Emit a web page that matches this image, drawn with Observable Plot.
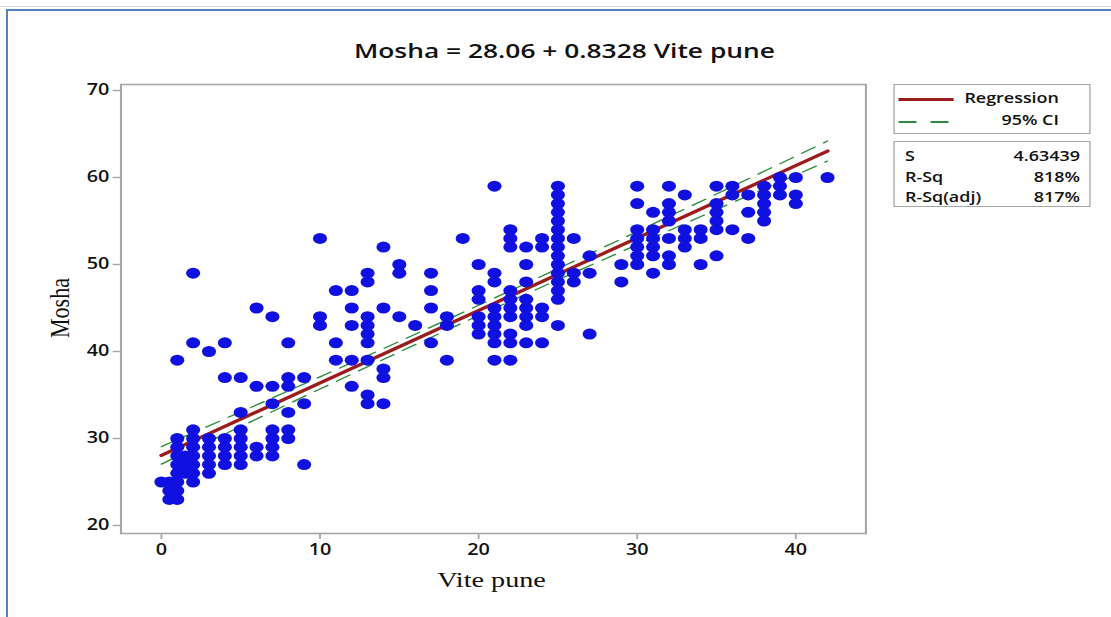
<!DOCTYPE html>
<html><head><meta charset="utf-8">
<script src="https://cdn.jsdelivr.net/npm/d3@7"></script>
<script src="https://cdn.jsdelivr.net/npm/@observablehq/plot@0.6"></script>
<style>
html,body{margin:0;padding:0;background:#fff;width:1111px;height:617px;overflow:hidden;}
#topline{position:absolute;left:0;top:6px;width:1111px;height:1px;background:#d4d4d4;}
#border{position:absolute;left:6px;top:9px;width:1200px;height:700px;border-left:2px solid #4f81bd;border-top:2px solid #4f81bd;}
#wrap{position:absolute;left:0;top:0;width:868px;height:617px;transform:scaleX(1.28);transform-origin:0 0;font-family:"Open Sans",sans-serif;color:#111;}
#wrap svg{position:absolute;left:0;top:0;}
.t{position:absolute;white-space:nowrap;line-height:20px;height:20px;}
.title{left:0;width:882px;top:40px;text-align:center;font-size:20.6px;font-weight:600;}
.ylab{left:47px;top:308px;font-family:"Liberation Serif",serif;font-size:22px;transform:translate(-50%,-50%) rotate(-90deg);}
.xlab{left:384px;top:580px;font-family:"Liberation Serif",serif;font-size:22px;transform:translate(-50%,-50%);}
.box{position:absolute;border:1.6px solid #a6a6a6;box-sizing:border-box;}
.leg{font-size:14px;font-weight:600;}
.seg{position:absolute;}
</style></head>
<body>
<div id="topline"></div>
<div id="border"></div>
<div id="wrap">
  <div class="t title">Mosha = 28.06 + 0.8328 Vite pune</div>
  <div class="t ylab">Mosha</div>
  <div class="t xlab">Vite pune</div>
  <div class="box" style="left:697.7px;top:84px;width:154.7px;height:50px;"></div>
  <div class="box" style="left:697.7px;top:141px;width:154.7px;height:66px;"></div>
  <div class="seg" style="left:702.3px;top:97.5px;width:43px;height:3px;background:#9b1c1c;"></div>
  <div class="seg" style="left:702.3px;top:121px;width:14px;height:1.6px;background:#2e8b3e;"></div>
  <div class="seg" style="left:726.6px;top:121px;width:14px;height:1.6px;background:#2e8b3e;"></div>
  <div class="t leg" style="left:720px;width:107.3px;text-align:right;top:88px;">Regression</div>
  <div class="t leg" style="left:720px;width:107.3px;text-align:right;top:110px;">95% CI</div>
  <div class="t leg" style="left:707px;top:146px;">S</div>
  <div class="t leg" style="left:760px;width:83.75px;text-align:right;top:146px;">4.63439</div>
  <div class="t leg" style="left:707px;top:167px;">R-Sq</div>
  <div class="t leg" style="left:760px;width:83.75px;text-align:right;top:167px;">818%</div>
  <div class="t leg" style="left:707px;top:187px;">R-Sq(adj)</div>
  <div class="t leg" style="left:760px;width:83.75px;text-align:right;top:187px;">817%</div>
</div>
<script>
// Vite pune (x) columns and the Mosha (y) values observed at each
const vitePune = [0, 0.5, 1, 1.5, 2, 3, 4, 5, 6, 7, 8, 9, 10, 11, 12, 13, 14, 15, 16, 17, 18, 19, 20, 21, 22, 23, 24, 25, 26, 27, 29, 30, 31, 32, 33, 34, 35, 36, 37, 38, 39, 40, 42];
const moshaByVitePune = [
  [25],
  [23, 24, 25],
  [23, 24, 25, 26, 27, 28, 29, 30, 39],
  [26, 27, 28],
  [25, 26, 27, 28, 29, 30, 31, 41, 49],
  [26, 27, 28, 29, 30, 40],
  [27, 28, 29, 30, 37, 41],
  [27, 28, 29, 30, 31, 33, 37],
  [28, 29, 36, 45],
  [28, 29, 30, 31, 34, 36, 44],
  [30, 31, 33, 36, 37, 41],
  [27, 34, 37],
  [43, 44, 53],
  [39, 41, 47],
  [36, 39, 43, 45, 47],
  [34, 35, 39, 41, 42, 43, 44, 48, 49],
  [34, 37, 38, 45, 52],
  [44, 49, 50],
  [43],
  [41, 45, 47, 49],
  [39, 43, 44],
  [53],
  [42, 43, 44, 46, 47, 50],
  [39, 41, 42, 43, 44, 45, 48, 49, 59],
  [39, 41, 42, 44, 45, 46, 47, 52, 53, 54],
  [41, 43, 44, 45, 46, 48, 50, 52],
  [41, 44, 45, 52, 53],
  [43, 46, 47, 48, 49, 50, 51, 52, 53, 54, 55, 56, 57, 58, 59],
  [48, 49, 53],
  [42, 49, 51],
  [48, 50],
  [50, 51, 52, 53, 54, 57, 59],
  [49, 51, 52, 53, 54, 56],
  [50, 51, 53, 55, 56, 57, 59],
  [52, 53, 54, 58],
  [50, 53, 54],
  [51, 54, 55, 56, 57, 59],
  [54, 58, 59],
  [53, 56, 58],
  [55, 56, 57, 58, 59],
  [58, 59, 60],
  [57, 58, 60],
  [60]
];
// Fitted regression line (from the equation in the title)
const fitX = [0, 42];
const fitMosha = [28.06, 63.04];
// 95% confidence band
const ciX = [0, 5, 10, 15, 20, 25, 30, 35, 40, 42];
const ciUpper = [29.06, 33.06, 37.09, 41.16, 45.31, 49.52, 53.80, 58.11, 62.45, 64.19];
const ciLower = [27.06, 31.38, 35.69, 39.94, 44.13, 48.24, 52.28, 56.31, 60.29, 61.89];
// Axis ticks
const xTicks = [0, 10, 20, 30, 40];
const yTicks = [20, 30, 40, 50, 60, 70];

const points = vitePune.flatMap((x, i) => moshaByVitePune[i].map(y => ({x, y})));
const fit = fitX.map((x, i) => ({x, y: fitMosha[i]}));
const upper = ciX.map((x, i) => ({x, y: ciUpper[i]}));
const lower = ciX.map((x, i) => ({x, y: ciLower[i]}));

const axisFont = {fontSize: 15.5, fontWeight: 600, fontFamily: "Open Sans", fill: "#111", stroke: "#a6a6a6", strokeWidth: 1.4};
const chart = Plot.plot({
  width: 868, height: 617,
  marginLeft: 94, marginRight: 192, marginTop: 84, marginBottom: 84,
  style: {background: "transparent", overflow: "visible"},
  x: {domain: [-2.55, 44.42]},
  y: {domain: [19.08, 70.69]},
  marks: [
    Plot.axisX({ticks: xTicks, tickSize: 6, tickPadding: 4, label: null, ...axisFont}),
    Plot.axisY({ticks: yTicks, tickSize: 6, tickPadding: 3, label: null, ...axisFont}),
    Plot.line(upper, {x: "x", y: "y", curve: "natural", stroke: "#2e8b3e", strokeWidth: 1.3, strokeDasharray: "12,8"}),
    Plot.line(lower, {x: "x", y: "y", curve: "natural", stroke: "#2e8b3e", strokeWidth: 1.3, strokeDasharray: "12,8"}),
    Plot.line(fit, {x: "x", y: "y", stroke: "#9b1c1c", strokeWidth: 3.2}),
    Plot.dot(points, {x: "x", y: "y", r: 5.5, fill: "#1010e0", stroke: "none"}),
    Plot.frame({stroke: "#a6a6a6", strokeWidth: 1.6})
  ]
});
document.getElementById("wrap").appendChild(chart);
</script>
</body></html>
